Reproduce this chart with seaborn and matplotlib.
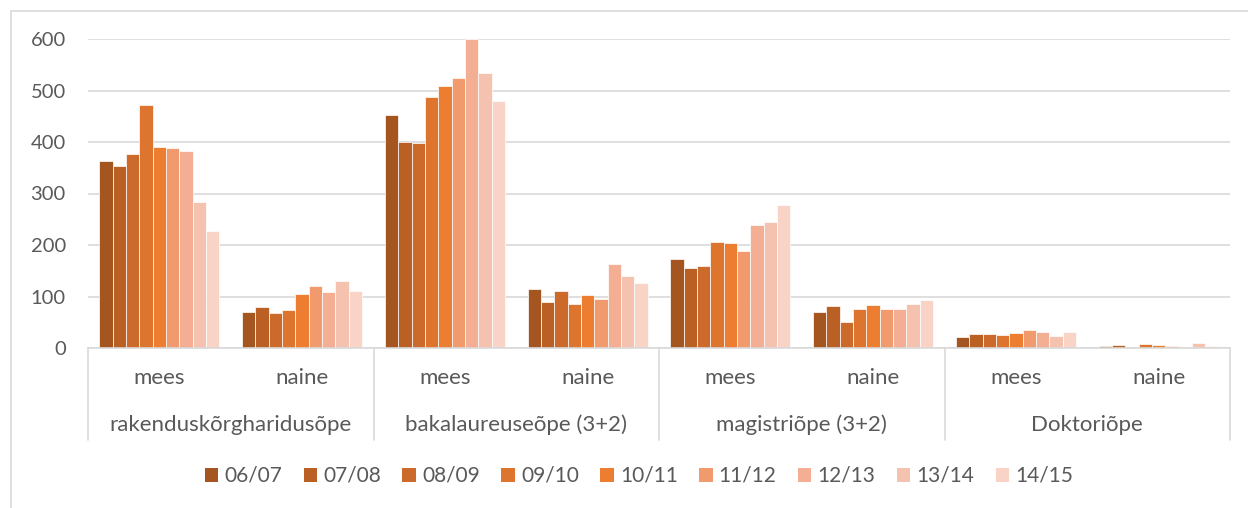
import pandas as pd
import numpy as np
import matplotlib
matplotlib.use("Agg")
import matplotlib.pyplot as plt
import matplotlib.patches as mpatches
import seaborn as sns

# %%
# Data
years = ["06/07", "07/08", "08/09", "09/10", "10/11", "11/12", "12/13", "13/14", "14/15"]
levels = ["rakenduskõrgharidusõpe", "bakalaureuseõpe (3+2)", "magistriõpe (3+2)", "Doktoriõpe"]
sexes = ["mees", "naine"]

rak_mees = [364, 354, 377, 472, 390, 388, 382, 283, 228]
rak_naine = [70, 80, 68, 74, 104, 121, 108, 131, 111]
bak_mees = [452, 400, 398, 488, 508, 525, 600, 534, 479]
bak_naine = [114, 90, 110, 86, 103, 96, 163, 139, 127]
mag_mees = [172, 155, 160, 205, 203, 188, 238, 244, 278]
mag_naine = [69, 81, 51, 76, 84, 75, 76, 86, 94]
dok_mees = [22, 27, 27, 25, 29, 35, 31, 24, 31]
dok_naine = [3, 5, 2, 7, 6, 4, 2, 9, 4]

colors = ["#A5551F", "#BA6024", "#CB6A2A", "#DD752F", "#ED7D31",
          "#F19A6E", "#F3AE93", "#F6C2B0", "#F8D3C6"]

# %%
series = [rak_mees, rak_naine, bak_mees, bak_naine, mag_mees, mag_naine, dok_mees, dok_naine]
rows = []
cats = []
for i, lvl in enumerate(levels):
    for j, sx in enumerate(sexes):
        cat = f"{lvl}|{sx}"
        cats.append(cat)
        for y, v in zip(years, series[2 * i + j]):
            rows.append({"cat": cat, "year": y, "value": v})
df = pd.DataFrame(rows)

# %%
sns.set_theme(style="white")
plt.rcParams["font.family"] = ["Lato", "DejaVu Sans"]
text_color = "#595959"
grid_color = "#D9D9D9"
fs = 15

W, H = 1248, 508
fig = plt.figure(figsize=(W / 100, H / 100), dpi=100)
ax = fig.add_axes([88 / W, 1 - 348 / H, (1230 - 88) / W, (348 - 39) / H])

sns.barplot(data=df, x="cat", y="value", hue="year", order=cats, hue_order=years,
            palette=colors, width=0.84, edgecolor="white", linewidth=0.5,
            saturation=1, ax=ax, legend=False)

ax.set_ylim(0, 600)
ax.set_xlim(-0.5, len(cats) - 0.5)
ax.set_yticks(np.arange(0, 601, 100))
ax.yaxis.grid(True, color=grid_color, linewidth=1.2)
ax.set_axisbelow(True)
for s in ax.spines.values():
    s.set_visible(False)
ax.set_xticks([])
ax.set_xlabel("")
ax.set_ylabel("")
ax.tick_params(axis="y", length=0, pad=16, labelsize=fs - 0.5, labelcolor=text_color)

# category axis: baseline, separators and two-level labels
trans = ax.get_xaxis_transform()
ax.plot([-0.5, len(cats) - 0.5], [0, 0], transform=trans, color=grid_color, lw=1.2, clip_on=False)
sep_bottom = -(440 - 348) / (348 - 39)
for k in range(len(levels) + 1):
    xk = -0.5 + 2 * k
    ax.plot([xk, xk], [0, sep_bottom], transform=trans, color=grid_color, lw=1.2, clip_on=False)

sex_y = -(378 - 348) / (348 - 39)
lvl_y = -(425 - 348) / (348 - 39)
for i, cat in enumerate(cats):
    ax.text(i, sex_y, cat.split("|")[1], transform=trans, ha="center", va="center",
            fontsize=fs + 1, color=text_color)
for k, lvl in enumerate(levels):
    ax.text(2 * k + 0.5, lvl_y, lvl, transform=trans, ha="center", va="center",
            fontsize=fs + 1, color=text_color)

# legend
handles = [mpatches.Patch(facecolor=c, edgecolor="none") for c in colors]
fig.legend(handles, years, loc="center", bbox_to_anchor=(639 / W, 1 - 476 / H), ncol=9,
           frameon=False, fontsize=fs, labelcolor=text_color, handlelength=0.65,
           handleheight=0.65, handletextpad=0.3, columnspacing=1.02)

# outer chart frame
fig.patches.append(mpatches.Rectangle((11 / W, -0.1), 2, 1 - 10.7 / H + 0.1,
                                      transform=fig.transFigure, fill=False,
                                      edgecolor=grid_color, lw=1.2))

fig.savefig("out.png", dpi=100)
